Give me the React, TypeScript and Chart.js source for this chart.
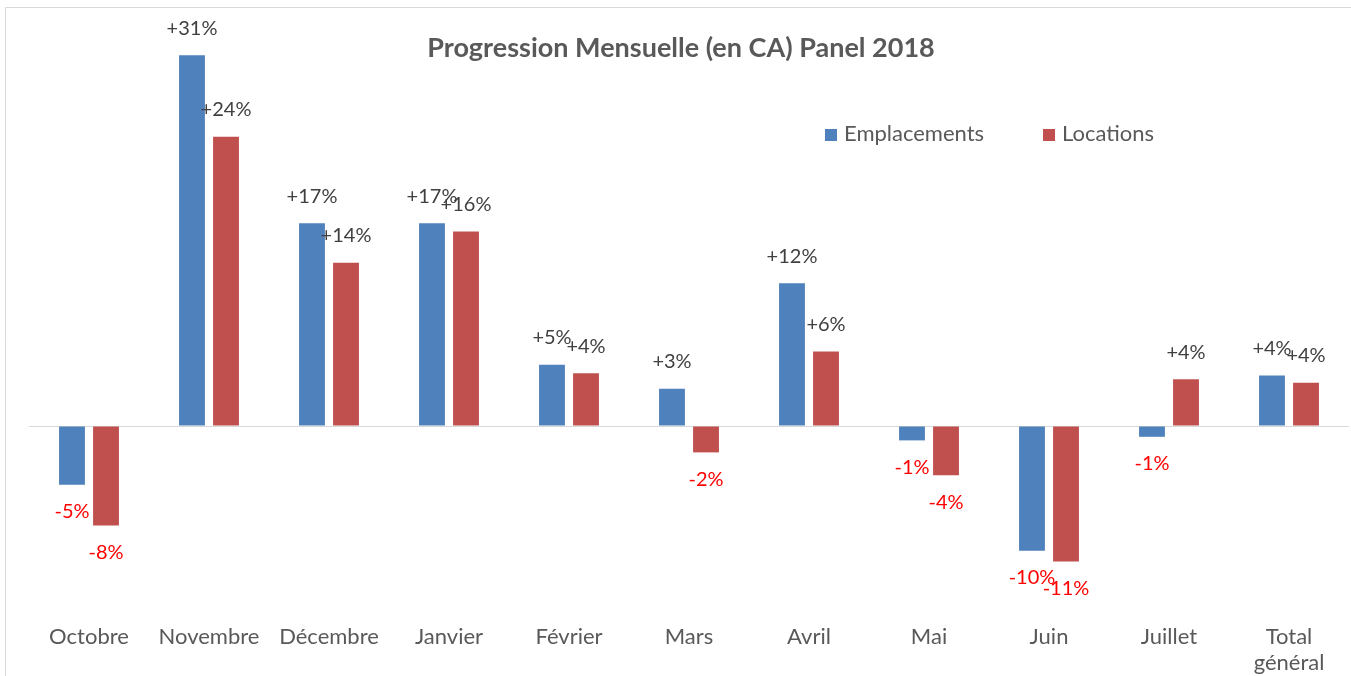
import React, { useEffect, useRef } from "react";
import { Chart, registerables } from "chart.js";

Chart.register(...registerables);

const categories: (string | string[])[] = [
  "Octobre",
  "Novembre",
  "Décembre",
  "Janvier",
  "Février",
  "Mars",
  "Avril",
  "Mai",
  "Juin",
  "Juillet",
  ["Total", "général"],
];
const emplacements = [-4.9, 30.9, 16.9, 16.9, 5.1, 3.1, 11.9, -1.2, -10.4, -0.9, 4.2];
const locations = [-8.3, 24.1, 13.6, 16.2, 4.4, -2.2, 6.2, -4.1, -11.3, 3.9, 3.6];
const seriesNames = ["Emplacements", "Locations"];
const seriesColors = ["#4F81BD", "#C0504D"];
const titleText = "Progression Mensuelle (en CA) Panel 2018";

const FONT = "Lato, 'Open Sans', sans-serif";

const fmt = (v: number) => (v >= 0 ? "+" : "-") + Math.round(Math.abs(v)) + "%";

const decorPlugin = {
  id: "decor",
  beforeDraw(chart: any) {
    const ctx = chart.ctx;
    ctx.save();
    ctx.strokeStyle = "#D9D9D9";
    ctx.lineWidth = 1;
    ctx.beginPath();
    ctx.moveTo(5.5, chart.height);
    ctx.lineTo(5.5, 7.5);
    ctx.lineTo(chart.width, 7.5);
    ctx.stroke();
    ctx.restore();
  },
  afterDatasetsDraw(chart: any) {
    const ctx = chart.ctx;
    ctx.save();
    ctx.font = `20px ${FONT}`;
    ctx.textAlign = "center";
    ctx.textBaseline = "middle";
    chart.data.datasets.forEach((ds: any, di: number) => {
      const meta = chart.getDatasetMeta(di);
      meta.data.forEach((el: any, i: number) => {
        const v = ds.data[i];
        const pos = v >= 0;
        ctx.fillStyle = pos ? "#404040" : "#FF0000";
        const y = pos ? el.y - 27 : el.y + 27;
        ctx.fillText(fmt(v), el.x, y);
      });
    });
    // title
    ctx.fillStyle = "#595959";
    ctx.font = `bold 27px ${FONT}`;
    ctx.fillText(titleText, 681, 48);
    // legend
    const items = [
      { x: 825, tx: 844 },
      { x: 1043, tx: 1062 },
    ];
    ctx.font = `22px ${FONT}`;
    ctx.textAlign = "left";
    items.forEach((it, k) => {
      ctx.fillStyle = seriesColors[k];
      ctx.fillRect(it.x, 129, 12, 12);
      ctx.fillStyle = "#595959";
      ctx.fillText(seriesNames[k], it.tx, 134);
    });
    ctx.restore();
  },
};

export default function App() {
  const ref = useRef<HTMLCanvasElement | null>(null);
  useEffect(() => {
    if (!ref.current) return;
    const chart = new Chart(ref.current, {
      type: "bar",
      data: {
        labels: categories,
        datasets: [
          {
            label: seriesNames[0],
            data: emplacements,
            backgroundColor: seriesColors[0],
            categoryPercentage: 0.567,
            barPercentage: 0.76,
          },
          {
            label: seriesNames[1],
            data: locations,
            backgroundColor: seriesColors[1],
            categoryPercentage: 0.567,
            barPercentage: 0.76,
          },
        ],
      },
      options: {
        responsive: false,
        animation: false,
        layout: { padding: { left: 29, right: 2, top: 6, bottom: 0 } },
        plugins: {
          legend: { display: false },
          title: { display: false },
          tooltip: { enabled: false },
        },
        scales: {
          x: {
            grid: { display: false },
            border: { display: false },
            ticks: {
              color: "#595959",
              font: { family: FONT, size: 22, lineHeight: 1.18 },
              padding: 10,
              maxRotation: 0,
              autoSkip: false,
            },
            afterFit: (scale: any) => {
              scale.height = 70;
            },
          },
          y: {
            min: -15,
            max: 35,
            ticks: { display: false, stepSize: 5 },
            border: { display: false },
            grid: {
              drawTicks: false,
              color: (c: any) => (c.tick && c.tick.value === 0 ? "#D9D9D9" : "rgba(0,0,0,0)"),
              lineWidth: 1,
            },
            afterFit: (scale: any) => {
              scale.width = 0;
            },
          },
        },
      },
      plugins: [decorPlugin],
    });
    return () => chart.destroy();
  }, []);
  return (
    <div style={{ position: "fixed", left: 0, top: 0, width: 1351, height: 676, background: "#fff" }}>
      <canvas ref={ref} width={1351} height={676} style={{ display: "block" }} />
    </div>
  );
}
